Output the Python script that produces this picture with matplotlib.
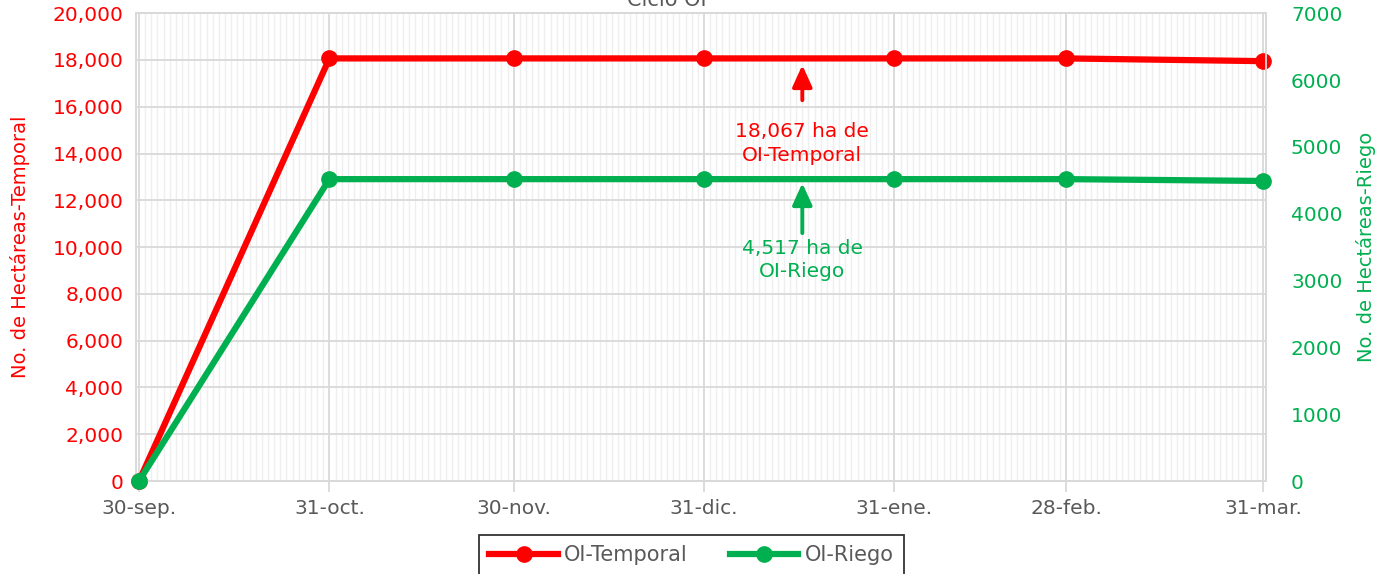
import matplotlib
matplotlib.use('Agg')
from matplotlib import pyplot as plt
import matplotlib.dates as mdates
import matplotlib.ticker as ticker
import pandas as pd

plt.rcParams['font.family'] = ['DejaVu Sans']

# data
fechas = ['2023-09-30', '2023-10-31', '2023-11-30', '2023-12-31', '2024-01-31', '2024-02-28', '2024-03-31']
etiquetas = ['30-sep.', '31-oct.', '30-nov.', '31-dic.', '31-ene.', '28-feb.', '31-mar.']
temporal = [0, 18067, 18067, 18067, 18067, 18067, 17950]
riego = [0, 4517, 4517, 4517, 4517, 4517, 4490]

rojo = '#FF0000'
verde = '#00B050'
gris = '#595959'

x = pd.to_datetime(fechas)
x_nota = pd.Timestamp('2024-01-16')

fig = plt.figure(figsize=(13.83, 5.74), dpi=100)
ax = fig.add_axes([0.0983, 0.162, 0.8171, 0.815])
ax2 = ax.twinx()

l1, = ax.plot(x, temporal, color=rojo, lw=4.5, marker='o', ms=11, label='OI-Temporal', zorder=5, clip_on=False)
l2, = ax2.plot(x, riego, color=verde, lw=4.5, marker='o', ms=11, label='OI-Riego', zorder=5, clip_on=False)

ax.set_xlim(x[0] - pd.Timedelta(hours=12), x[-1] + pd.Timedelta(hours=12))
ax.set_ylim(0, 20000)
ax2.set_ylim(0, 7000)

ax.set_xticks(x)
ax.set_xticklabels(etiquetas)
ax.xaxis.set_minor_locator(mdates.DayLocator())
ax.yaxis.set_major_locator(ticker.MultipleLocator(2000))
ax.yaxis.set_major_formatter(ticker.StrMethodFormatter('{x:,.0f}'))
ax2.yaxis.set_major_locator(ticker.MultipleLocator(1000))

ax.grid(which='major', axis='x', color='#D9D9D9', lw=1.3)
ax.grid(which='minor', axis='x', color='#EFEFEF', lw=1.0)
ax.grid(which='major', axis='y', color='#D9D9D9', lw=1.3)
ax.set_axisbelow(True)

for a in (ax, ax2):
    for s in a.spines.values():
        s.set_color('#D9D9D9')
        s.set_linewidth(1.3)

ax.tick_params(axis='x', which='major', colors='#D9D9D9', length=8, width=1.3, labelcolor=gris, labelsize=14.5, pad=5)
ax.tick_params(axis='x', which='minor', length=0)
ax.tick_params(axis='y', length=0, labelcolor=rojo, labelsize=14.5, pad=9)
ax2.tick_params(axis='y', length=0, labelcolor=verde, labelsize=14.5, pad=18)

ax.set_ylabel('No. de Hectáreas-Temporal', color=rojo, fontsize=14)
ax.yaxis.set_label_coords(-0.094, 0.5)
ax2.set_ylabel('No. de Hectáreas-Riego', color=verde, fontsize=14, rotation=90)
ax2.yaxis.set_label_coords(1.08, 0.5)

# annotations: arrows and text
flecha = dict(arrowstyle='-|>,head_length=1.1,head_width=0.5', lw=2.8, mutation_scale=12,
              shrinkA=0, shrinkB=0)
ax.annotate('', xy=(x_nota, 17780), xytext=(x_nota, 16280),
            arrowprops=dict(flecha, color=rojo), zorder=6)
ax.text(x_nota, 14440, '18,067 ha de\nOI-Temporal', ha='center', va='center',
        color=rojo, fontsize=14.5, linespacing=1.3)
ax2.annotate('', xy=(x_nota, 4457), xytext=(x_nota, 3709),
             arrowprops=dict(flecha, color=verde), zorder=6)
ax2.text(x_nota, 3305, '4,517 ha de\nOI-Riego', ha='center', va='center',
         color=verde, fontsize=14.5, linespacing=1.3)

fig.text(0.482, 1.0, 'Ciclo OI', ha='center', va='center', color=gris, fontsize=15)

leg = fig.legend(handles=[l1, l2], loc='upper center', bbox_to_anchor=(0.5, 1 - 535 / 574),
                 borderaxespad=0, ncol=2, frameon=True, fancybox=False, edgecolor='black',
                 fontsize=15, handlelength=3.3, handletextpad=0.3, columnspacing=2.0, borderpad=0.5)
leg.get_frame().set_linewidth(1.3)
for t in leg.get_texts():
    t.set_color(gris)

fig.savefig('out.png', dpi=100)
